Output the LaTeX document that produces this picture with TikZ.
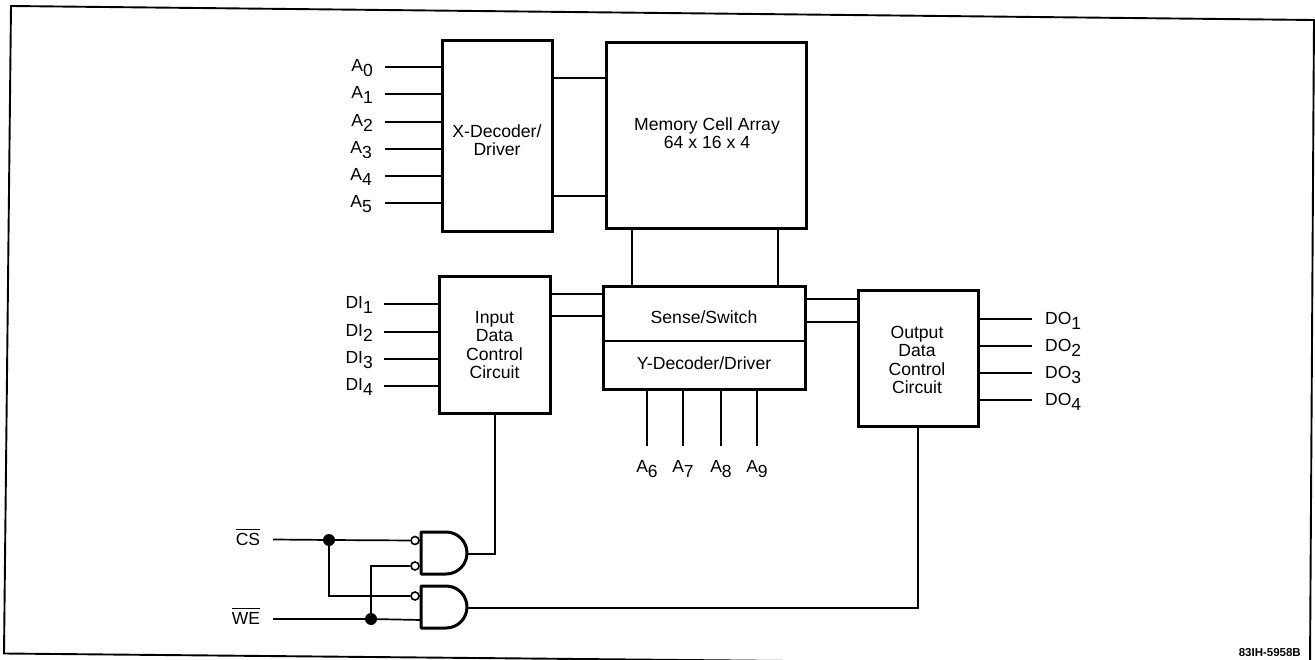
\documentclass[tikz,border=0pt]{standalone}
\usepackage{fontspec}
\setmainfont{Liberation Sans}
\newcommand{\lowsub}[1]{\raisebox{-0.3em}{#1}}
\newcommand{\barred}[1]{\leavevmode\vbox{\hrule height 1.5pt\kern 2.5pt\hbox{#1}}}
\begin{document}
\begin{tikzpicture}[x=1pt,y=-1pt,
  every node/.style={font=\fontsize{17.6}{18.5}\selectfont},
  box/.style={draw,line width=3pt,inner sep=0pt,align=center,rectangle},
  wire/.style={line width=1.7pt},
  link/.style={line width=2pt},
  lab/.style={inner sep=0pt,font=\fontsize{17.5}{19}\selectfont},
  dot/.style={circle,fill=black,inner sep=0pt,minimum size=12pt},
  bub/.style={circle,draw,fill=white,line width=1.6pt,inner sep=0pt,minimum size=8pt},
  gate/.style={line width=3pt,line join=round}]
\useasboundingbox (0,0) rectangle (1315,660);
\begin{scope}
\clip (0,0) rectangle (1315,660);
\draw[line width=1.9pt] (11,6) -- (1314,20) -- (1310,666) -- (4,653.5) -- cycle;
\end{scope}

% boxes
\node[box,minimum width=110pt,minimum height=191pt] (xd) at (497,136.5) {};
\node[inner sep=0pt,align=center] (xdt) at (497,140) {X-Decoder/\\Driver};
\node[box,minimum width=200pt,minimum height=186pt] (mem) at (706,136) {};
\node[align=center,inner sep=0pt] (memt) at (707,133) {Memory Cell Array\\64 x 16 x 4};
\node[box,minimum width=111pt,minimum height=136pt] (idc) at (494.5,345) {Input\\Data\\Control\\Circuit};
\node[box,minimum width=202pt,minimum height=103pt] (ss) at (704,338) {};
\node[inner sep=0pt] (sst) at (704,317) {Sense/Switch};
\node[inner sep=0pt] (ydt) at (704,363) {Y-Decoder/Driver};
\coordinate (dl) at (603,341); \coordinate (dr) at (805,341);
\draw[link] (dl) -- (dr);
\node[box,minimum width=120pt,minimum height=135pt] (odc) at (918,358.5) {};
\node[inner sep=0pt,align=center] (odct) at (917,360) {Output\\Data\\Control\\Circuit};

% address inputs
\foreach \i/\y/\xe in {0/67/373,1/94/373,2/122/373,3/149/372,4/176/372,5/203/372}{
  \node[lab,anchor=east] (a\i) at (\xe,\y+1) {A\lowsub{\i}};
  \coordinate (as\i) at (385,\y);
  \draw[wire] (as\i) -- (xd.west |- as\i);
}
% xd - mem
\coordinate (m1) at (580,78); \coordinate (m2) at (580,196);
\draw[link] (xd.east |- m1) -- (mem.west |- m1);
\draw[link] (xd.east |- m2) -- (mem.west |- m2);
% mem - sense
\coordinate (v1) at (632,260); \coordinate (v2) at (778,260);
\draw[wire] (mem.south -| v1) -- (ss.north -| v1);
\draw[wire] (mem.south -| v2) -- (ss.north -| v2);
% input - sense
\coordinate (i1) at (575,294); \coordinate (i2) at (575,316);
\draw[link] (idc.east |- i1) -- (ss.west |- i1);
\draw[link] (idc.east |- i2) -- (ss.west |- i2);
% sense - output
\coordinate (o1) at (830,299); \coordinate (o2) at (830,322);
\draw[link] (ss.east |- o1) -- (odc.west |- o1);
\draw[link] (ss.east |- o2) -- (odc.west |- o2);
% DI
\foreach \i/\y in {1/304,2/332,3/359,4/386}{
  \node[lab,anchor=east] (di\i) at (373,\y+1) {DI\lowsub{\i}};
  \coordinate (ds\i) at (384,\y);
  \draw[wire] (ds\i) -- (idc.west |- ds\i);
}
% DO
\foreach \i/\y in {1/319,2/346,3/373,4/400}{
  \node[lab,anchor=west] (do\i) at (1045,\y+2) {DO\lowsub{\i}};
  \coordinate (de\i) at (1032,\y);
  \draw[wire] (odc.east |- de\i) -- (de\i);
}
% A6-A9
\foreach \i/\x in {6/647,7/683,8/721,9/757}{
  \node[lab] (a\i) at (\x,469) {A\lowsub{\i}};
  \coordinate (ya\i) at (\x,446);
  \draw[wire] (ss.south -| ya\i) -- (ya\i);
}

% gates
\coordinate (g1) at (421,532);
\coordinate (g2) at (421,586);
\draw[gate] (g1) -- ++(25,0) arc[start angle=-90,end angle=90,radius=21] -- ++(-25,0) -- cycle;
\draw[gate] (g2) -- ++(25,0) arc[start angle=-90,end angle=90,radius=21] -- ++(-25,0) -- cycle;
\coordinate (g1o) at (467,554);
\coordinate (g2o) at (467,608);
\node[bub] (b1) at (415,540.5) {};
\node[bub] (b2) at (415,566) {};
\node[bub] (b3) at (415,596) {};
\coordinate (wein) at (421,620);

% labels and junctions
\node[lab] (cs) at (248,537) {\barred{CS}};
\node[lab] (we) at (246,616) {\barred{WE}};
\coordinate (css) at (273,539.5);
\coordinate (wes) at (273,619);
\node[dot] (j1) at (329,540) {};
\node[dot] (j2) at (371,619) {};

\draw[wire] (css) -- (j1) -- (b1);
\draw[wire] (j1) -- (j1 |- b3) -- (b3);
\draw[wire] (wes) -- (j2) -- (wein);
\draw[wire] (j2) -- (j2 |- b2) -- (b2);
\coordinate (k1) at (495,554);
\draw[wire] (g1o) -- (k1) -- (idc.south -| k1);
\coordinate (k2) at (918,608);
\draw[wire] (g2o) -- (k2) -- (odc.south -| k2);

\node[inner sep=0pt,anchor=east,font=\bfseries\fontsize{11.5}{12}\selectfont] (reft) at (1301,653) {83IH-5958B};
\end{tikzpicture}
\end{document}
